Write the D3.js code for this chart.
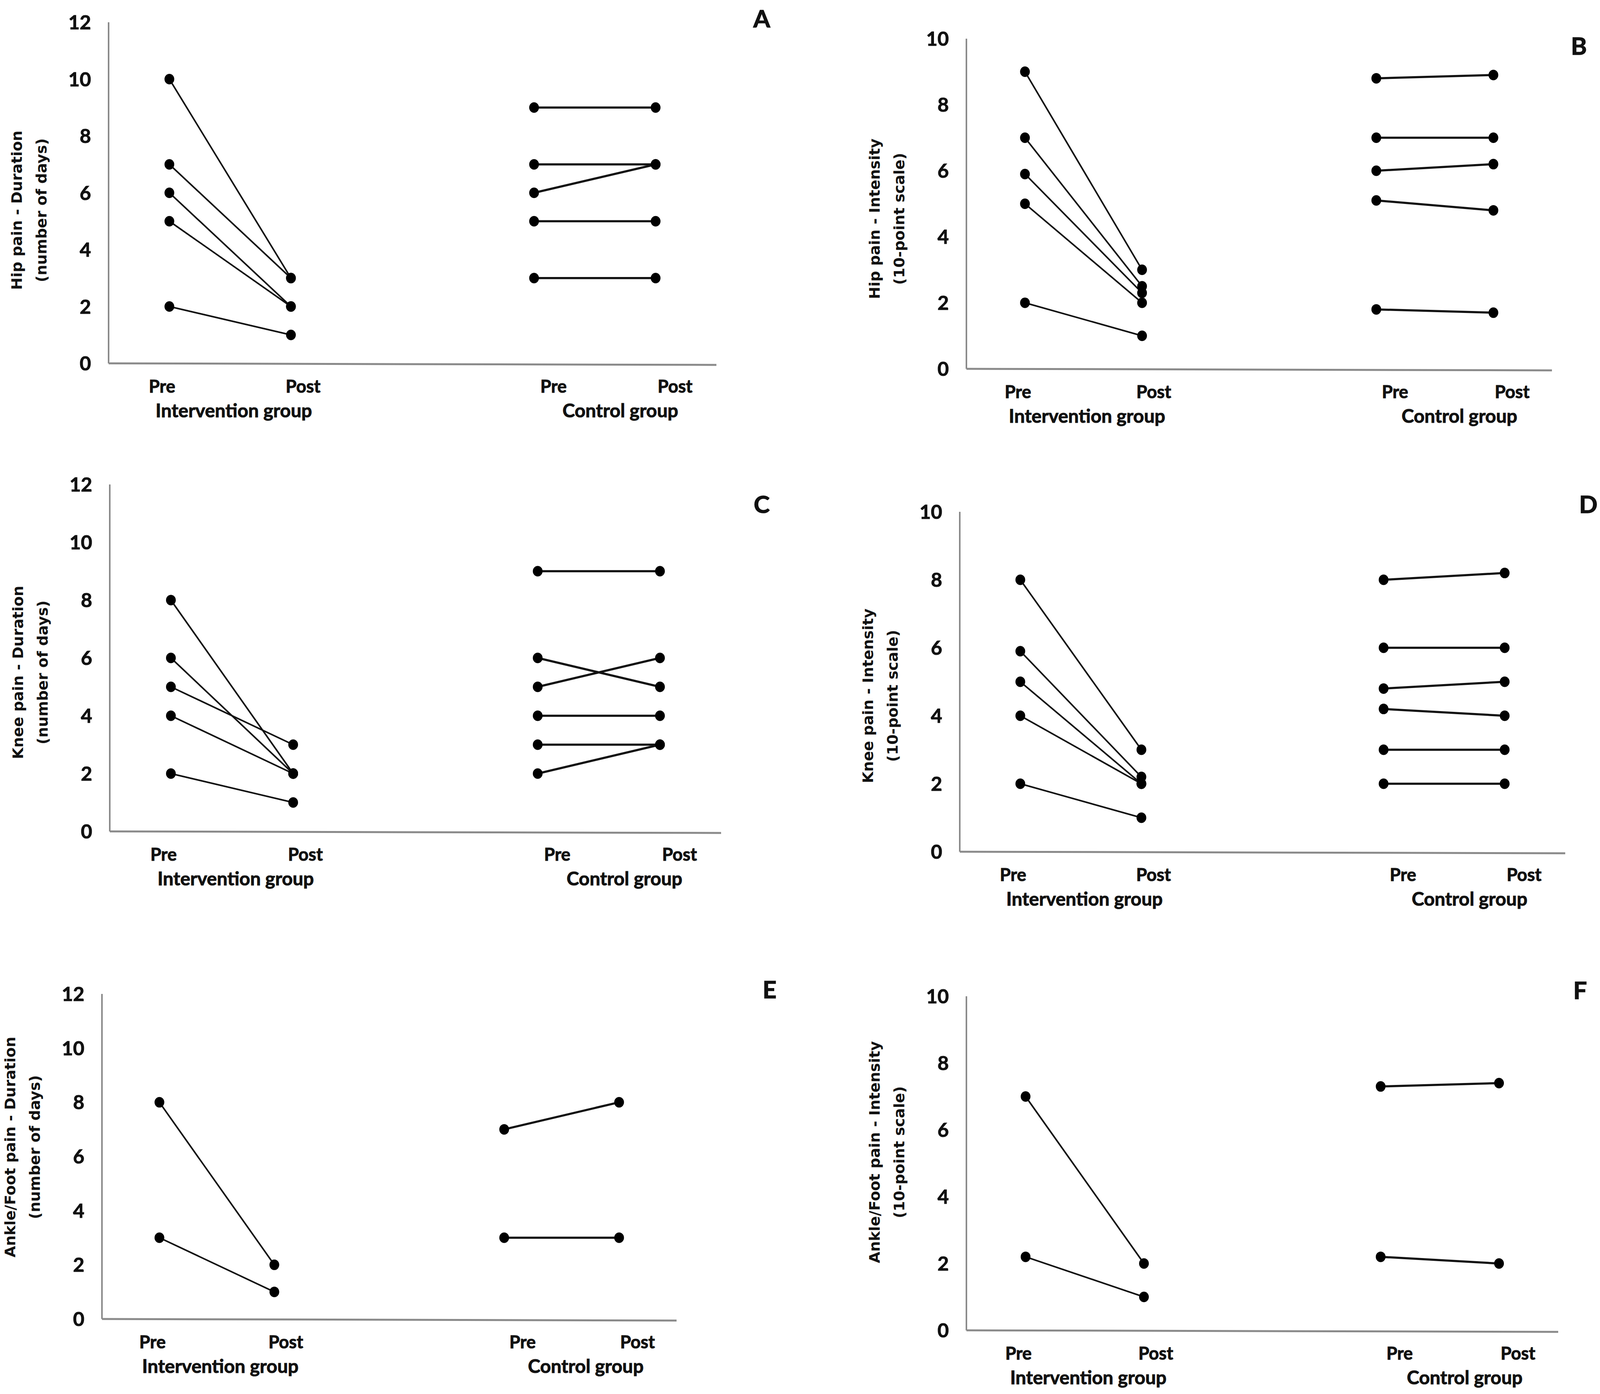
<!DOCTYPE html>
<html>
<head>
<meta charset="utf-8">
<script src="https://cdn.jsdelivr.net/npm/d3@7"></script>
<style>
  body { margin: 0; background: #fff; }
  .tick-label { font-family: Lato, "Liberation Sans", sans-serif; font-weight: 700; font-size: 50px; fill: #111; stroke: #111; stroke-width: 1.2px; }
  .cat-label { font-family: Lato, "Liberation Sans", sans-serif; font-weight: 700; font-size: 45px; fill: #111; stroke: #111; stroke-width: 1.2px; }
  .group-label { font-family: Lato, "Liberation Sans", sans-serif; font-weight: 700; font-size: 48px; fill: #111; stroke: #111; stroke-width: 1.2px; }
  .panel-letter { font-family: Lato, "Liberation Sans", sans-serif; font-weight: 700; font-size: 62px; fill: #111; stroke: #111; stroke-width: 1.5px; }
  .y-title { font-family: "DejaVu Sans", Verdana, sans-serif; font-weight: 700; font-size: 38px; fill: #111; }
</style>
</head>
<body>
<div id="chart-container"></div>
<script>
const containerWidth = 4106;
const containerHeight = 3568;

// categories on the x axis (middle one is an empty spacer)
const catKeys = ["intPre", "intPost", "gap", "ctlPre", "ctlPost"];
const catLabels = ["Pre", "Post", "Pre", "Post"];
const groupLabels = ["Intervention group", "Control group"];

// each pair is [pre, post] for one participant
const hipDurInt = [[10, 3], [7, 3], [6, 2], [5, 2], [2, 1]];
const hipDurCtl = [[9, 9], [7, 7], [6, 7], [5, 5], [3, 3]];
const hipIntInt = [[9, 3], [7, 2.5], [5.9, 2.3], [5, 2], [2, 1]];
const hipIntCtl = [[8.8, 8.9], [7, 7], [6, 6.2], [5.1, 4.8], [1.8, 1.7]];
const kneeDurInt = [[8, 2], [6, 2], [5, 3], [4, 2], [2, 1]];
const kneeDurCtl = [[9, 9], [6, 5], [5, 6], [4, 4], [3, 3], [2, 3]];
const kneeIntInt = [[8, 3], [5.9, 2.2], [5, 2], [4, 2], [2, 1]];
const kneeIntCtl = [[8, 8.2], [6, 6], [4.8, 5], [4.2, 4], [3, 3], [2, 2]];
const ankDurInt = [[8, 2], [3, 1]];
const ankDurCtl = [[7, 8], [3, 3]];
const ankIntInt = [[7, 2], [2.2, 1]];
const ankIntCtl = [[7.3, 7.4], [2.2, 2]];

const yTicksDur = [0, 2, 4, 6, 8, 10, 12];
const yTicksInt = [0, 2, 4, 6, 8, 10];

const durTitle2 = "(number of days)";
const intTitle2 = "(10-point scale)";

// panel layout
const panels = [
  { letter: "A", x0: 278, x1: 1834, yTop: 57, y0: 930, ticks: yTicksDur, int: hipDurInt, ctl: hipDurCtl,
    title: ["Hip pain - Duration", durTitle2], titleCy: 538, lx: 1950, ly: 70 },
  { letter: "B", x0: 2474, x1: 3973, yTop: 99, y0: 944, ticks: yTicksInt, int: hipIntInt, ctl: hipIntCtl,
    title: ["Hip pain - Intensity", intTitle2], titleCy: 560, lx: 4042, ly: 140 },
  { letter: "C", x0: 281, x1: 1846, yTop: 1240, y0: 2128, ticks: yTicksDur, int: kneeDurInt, ctl: kneeDurCtl,
    title: ["Knee pain - Duration", durTitle2], titleCy: 1721, lx: 1950, ly: 1313 },
  { letter: "D", x0: 2457, x1: 4007, yTop: 1310, y0: 2180, ticks: yTicksInt, int: kneeIntInt, ctl: kneeIntCtl,
    title: ["Knee pain - Intensity", intTitle2], titleCy: 1781, lx: 4066, ly: 1313 },
  { letter: "E", x0: 261, x1: 1732, yTop: 2544, y0: 3376, ticks: yTicksDur, int: ankDurInt, ctl: ankDurCtl,
    title: ["Ankle/Foot pain - Duration", durTitle2], titleCy: 2936, lx: 1970, ly: 2555 },
  { letter: "F", x0: 2474, x1: 3989, yTop: 2550, y0: 3405, ticks: yTicksInt, int: ankIntInt, ctl: ankIntCtl,
    title: ["Ankle/Foot pain - Intensity", intTitle2], titleCy: 2949, lx: 4045, ly: 2557 }
];

// label nudges, as fraction of a band (the original labels sit a bit right of the points)
const catNudge = [-0.06, 0.1, 0.16, 0.16];
const groupNudge = [0.03, 0.21];

const svg = d3.select("#chart-container")
  .append("svg")
  .attr("width", containerWidth)
  .attr("height", containerHeight);

panels.forEach(p => {
  const g = svg.append("g");

  const x = d3.scaleBand().domain(catKeys).range([p.x0, p.x1]);
  const xc = k => x(k) + x.bandwidth() / 2;
  const y = d3.scaleLinear().domain([0, d3.max(p.ticks)]).range([p.y0, p.yTop]);

  // axes lines
  g.append("line")
    .attr("x1", p.x0).attr("x2", p.x0)
    .attr("y1", y(d3.max(p.ticks))).attr("y2", y(0))
    .attr("stroke", "#8a8a8a").attr("stroke-width", 4);
  g.append("line")
    .attr("x1", p.x0).attr("x2", p.x1)
    .attr("y1", y(0)).attr("y2", y(0) + 4)
    .attr("stroke", "#8a8a8a").attr("stroke-width", 5);

  // y tick labels
  g.selectAll(".tick-label")
    .data(p.ticks)
    .enter()
    .append("text")
    .attr("class", "tick-label")
    .attr("x", p.x0 - 45)
    .attr("y", d => y(d))
    .attr("dy", "0.36em")
    .attr("text-anchor", "end")
    .text(d => d);

  // category labels
  const labelKeys = ["intPre", "intPost", "ctlPre", "ctlPost"];
  g.selectAll(".cat-label")
    .data(catLabels)
    .enter()
    .append("text")
    .attr("class", "cat-label")
    .attr("x", (d, i) => xc(labelKeys[i]) + catNudge[i] * x.bandwidth())
    .attr("y", p.y0 + 75)
    .attr("text-anchor", "middle")
    .text(d => d);

  g.selectAll(".group-label")
    .data(groupLabels)
    .enter()
    .append("text")
    .attr("class", "group-label")
    .attr("x", (d, i) => {
      const mid = i === 0 ? (xc("intPre") + xc("intPost")) / 2 : (xc("ctlPre") + xc("ctlPost")) / 2;
      return mid + groupNudge[i] * x.bandwidth();
    })
    .attr("y", p.y0 + 138)
    .attr("text-anchor", "middle")
    .text(d => d);

  // y title (two lines, rotated)
  const tx = [p.x0 - 235, p.x0 - 172];
  p.title.forEach((t, i) => {
    g.append("text")
      .attr("class", "y-title")
      .attr("transform", `translate(${tx[i]},${p.titleCy}) rotate(-90)`)
      .attr("text-anchor", "middle")
      .attr("dominant-baseline", "central")
      .text(t);
  });

  // panel letter
  g.append("text")
    .attr("class", "panel-letter")
    .attr("x", p.lx)
    .attr("y", p.ly)
    .attr("text-anchor", "middle")
    .text(p.letter);

  // participant lines + dots
  const groups = [
    { data: p.int, keys: ["intPre", "intPost"], sw: 4 },
    { data: p.ctl, keys: ["ctlPre", "ctlPost"], sw: 5.5 }
  ];
  groups.forEach(grp => {
    g.selectAll(null)
      .data(grp.data)
      .enter()
      .append("line")
      .attr("x1", xc(grp.keys[0]))
      .attr("y1", d => y(d[0]))
      .attr("x2", xc(grp.keys[1]))
      .attr("y2", d => y(d[1]))
      .attr("stroke", "#111")
      .attr("stroke-width", grp.sw);

    const pts = grp.data.flatMap(d => [[grp.keys[0], d[0]], [grp.keys[1], d[1]]]);
    g.selectAll(null)
      .data(pts)
      .enter()
      .append("ellipse")
      .attr("cx", d => xc(d[0]))
      .attr("cy", d => y(d[1]))
      .attr("rx", 12.5)
      .attr("ry", 13.5)
      .attr("fill", "#000");
  });
});
</script>
</body>
</html>
